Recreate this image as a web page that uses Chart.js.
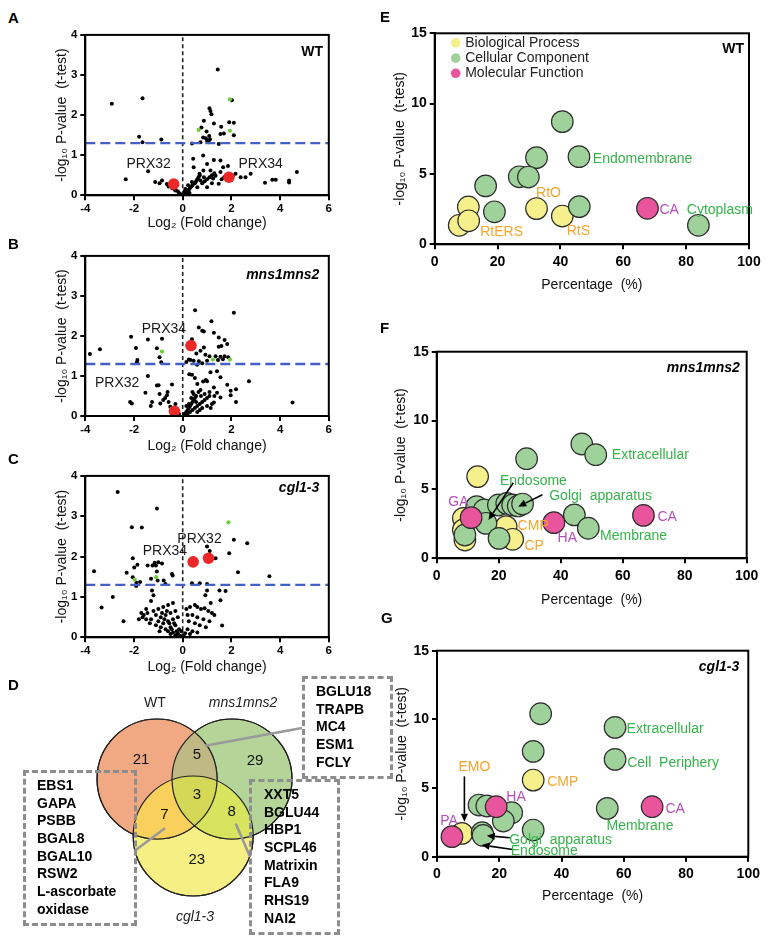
<!DOCTYPE html>
<html><head><meta charset="utf-8">
<script src="https://cdn.jsdelivr.net/npm/chart.js@4.4.1/dist/chart.umd.min.js"></script>
<style>
html,body{margin:0;padding:0;background:#fff}
body{position:relative;width:767px;height:941px;overflow:hidden;font-family:"Liberation Sans",Arial,Helvetica,sans-serif;color:#000}
canvas{position:absolute;display:block}
.letter{position:absolute;font-weight:bold;font-size:15px;line-height:15px}
.dbox{position:absolute;box-sizing:border-box;border:3px dashed #8d8d8d}
.glist{position:absolute;font-weight:bold;font-size:14px;line-height:17.67px;white-space:nowrap}
</style></head>
<body>
<canvas id="cA"></canvas><canvas id="cB"></canvas><canvas id="cC"></canvas>
<canvas id="cE"></canvas><canvas id="cF"></canvas><canvas id="cG"></canvas>
<canvas id="cV"></canvas>
<div class="letter" style="left:8px;top:10px">A</div>
<div class="letter" style="left:8px;top:236px">B</div>
<div class="letter" style="left:8px;top:451px">C</div>
<div class="letter" style="left:8px;top:677px">D</div>
<div class="letter" style="left:380px;top:9px">E</div>
<div class="letter" style="left:380px;top:320px">F</div>
<div class="letter" style="left:381px;top:610px">G</div>
<div class="dbox" style="left:23px;top:770px;width:114px;height:156px"></div>
<div class="dbox" style="left:302px;top:676px;width:91px;height:103px"></div>
<div class="dbox" style="left:249px;top:779px;width:91px;height:156px"></div>
<div class="glist" id="listWC" style="left:37px;top:777px"></div>
<div class="glist" id="listWM" style="left:316px;top:683px"></div>
<div class="glist" id="listMC" style="left:264px;top:786px"></div>
<script>
// ---------------- DATA ----------------
const P_THRESHOLD = 1.3;           // -log10(0.05)
const VOLCANO_X_TICKS = [-4, -2, 0, 2, 4, 6];
const VOLCANO_Y_TICKS = [0, 1, 2, 3, 4];
const GO_X_TICKS = [0, 20, 40, 60, 80, 100];
const GO_Y_TICKS = [0, 5, 10, 15];

// Panel A (WT) volcano: [log2 fold change, -log10 p]
const A_black = [[-2.91,2.28],[-1.65,2.42],[-1.79,1.46],[-1.65,1.32],[-0.88,1.39],
 [1.44,3.14],[2.02,2.37],[1.10,2.17],[1.14,2.10],[1.18,2.02],[0.87,1.86],[1.28,1.79],[1.58,1.71],[1.91,1.82],[2.10,1.81],
 [0.77,1.69],[0.98,1.59],[1.09,1.48],[0.84,1.44],[1.55,1.53],[1.69,1.54],[2.10,1.50],[1.48,1.28],[1.00,1.36],[0.73,1.32],
 [0.38,1.29],[1.07,1.32],[1.12,1.40],[0.95,1.42],
 [0.84,0.99],[0.43,0.91],[1.28,0.88],[1.55,0.87],[1.00,0.78],[1.86,0.73],[1.66,0.70],[1.14,0.62],[1.35,0.49],[1.55,0.58],
 [2.17,0.54],[2.38,0.45],[2.58,0.45],[2.79,0.54],[3.38,0.31],[3.68,0.39],[3.82,0.39],[4.37,0.37],[4.37,0.32],[4.69,0.58],
 [0.45,0.70],[0.69,0.54],[0.87,0.45],[1.48,0.29],[0.73,0.37],[0.38,0.33],[0.22,0.25],[0.11,0.16],
 [-2.34,0.40],[-1.42,0.60],[-1.13,0.33],[-0.85,0.37],[-0.95,0.30],[-0.58,0.22],[-0.44,0.18],[-0.30,0.12],[-0.16,0.06],[-0.65,0.28],[-0.50,0.25],
 [-0.10,0.03],[0.05,0.02],[0.10,0.05],[0.15,0.08],[0.20,0.10],[0.25,0.14],[0.30,0.18],[0.35,0.22],[0.40,0.25],[0.50,0.30],
 [0.55,0.35],[0.60,0.40],[0.65,0.45],[0.70,0.50],[0.60,0.20],[0.80,0.30],[0.90,0.35],[1.00,0.40],[1.10,0.45],[1.20,0.50],
 [1.30,0.55],[1.00,0.20],[1.20,0.30],[1.60,0.40],[1.70,0.45],[1.80,0.50],[-0.20,0.10],[-0.35,0.15],[0.00,0.00],[0.08,0.10],
 [0.18,0.03],[0.28,0.06],[0.85,0.62],[1.25,0.42],[2.05,0.48]];
const A_green = [[1.94,2.39],[0.66,1.63],[1.94,1.61]];
const A_red = [[-0.37,0.28],[1.90,0.45]];

// Panel B (mns1mns2) volcano
const B_black = [[-3.81,1.55],[-3.40,1.67],[-2.12,1.98],[-1.92,1.70],[-1.86,1.40],[-1.88,1.34],[-1.43,1.91],[-1.06,1.69],
 [-0.95,1.47],[-0.88,1.34],[-0.85,1.93],
 [-1.43,1.00],[-0.99,0.77],[-1.06,0.76],[-0.44,0.79],[-1.53,0.58],[-2.16,0.35],[-2.09,0.31],[-1.26,0.35],[-1.31,0.25],
 [-0.65,0.52],[-0.72,0.45],[-0.58,0.35],[-0.92,0.31],[-0.51,0.23],[-0.37,0.15],[-0.23,0.10],[-0.80,0.40],[-0.62,0.60],
 [-0.30,0.30],[-0.15,0.05],[-0.95,0.55],
 [0.51,2.64],[2.10,2.58],[1.18,2.37],[0.66,2.21],[0.80,2.13],[0.87,2.11],[0.38,1.92],[1.28,2.08],[1.72,1.90],[1.48,1.96],
 [1.83,1.80],[1.59,1.75],[1.48,1.73],[0.87,1.71],[0.73,1.63],[0.93,1.53],[1.10,1.49],[1.35,1.49],[1.55,1.48],[1.72,1.49],
 [1.87,1.47],[0.56,1.56],[0.32,1.40],[0.25,1.41],[0.66,1.37],[0.80,1.32],[0.59,1.28],[1.00,1.38],[1.45,1.40],[1.65,1.42],
 [0.45,1.38],[0.15,1.35],
 [0.27,1.04],[0.38,1.03],[1.14,1.09],[1.41,1.12],[1.55,0.97],[1.83,0.78],[2.72,0.87],[1.00,0.87],[0.84,0.86],[0.73,0.65],
 [1.28,0.71],[1.41,0.58],[1.97,0.63],[2.19,0.67],[1.97,0.52],[1.28,0.34],[2.19,0.35],[1.55,0.46],[4.51,0.34],[0.95,0.90],
 [0.60,0.80],[0.50,0.95],[1.10,0.60],
 [0.05,0.03],[0.10,0.06],[0.15,0.10],[0.20,0.15],[0.25,0.20],[0.30,0.25],[0.35,0.30],[0.40,0.35],[0.45,0.40],[0.50,0.45],
 [0.55,0.50],[0.30,0.10],[0.40,0.15],[0.50,0.20],[0.60,0.25],[0.70,0.30],[0.80,0.35],[0.90,0.40],[1.00,0.45],[1.10,0.50],
 [0.60,0.10],[0.80,0.20],[1.00,0.25],[1.20,0.30],[0.90,0.55],[0.65,0.60],[0.75,0.50],[0.20,0.05],[0.35,0.45],[0.45,0.55],
 [1.30,0.50],[1.15,0.20],[0.55,0.35],[0.70,0.15],[0.25,0.30],[0.40,0.60],[0.15,0.25]];
const B_green = [[-0.85,1.61],[1.24,1.41],[1.94,1.41]];
const B_red = [[-0.34,0.12],[0.34,1.76]];

// Panel C (cgl1-3) volcano
const C_black = [[-2.67,3.60],[-1.06,3.19],[-2.09,2.73],[-1.68,2.72],[-3.64,1.64],[-3.33,0.74],[-2.87,1.00],[-2.43,0.40],
 [-2.05,1.96],[-1.86,1.80],[-2.30,1.60],[-1.99,1.73],[-2.05,1.49],[-1.91,1.27],[-1.75,1.37],[-1.44,1.78],[-1.24,1.78],
 [-1.10,1.78],[-1.00,1.86],[-0.85,1.83],[-1.06,1.63],[-1.03,1.41],[-0.78,1.41],[-0.44,1.57],[-0.41,1.53],[-0.71,1.32],
 [-1.90,1.35],[-1.30,1.45],[-1.15,1.85],
 [2.10,2.42],[2.65,2.33],[1.00,2.25],[1.11,2.14],[1.35,1.96],[1.91,2.08],[2.27,1.61],[3.56,1.51],[0.38,1.34],[0.70,1.34],
 [1.00,1.32],[1.51,1.16],[1.76,1.15],[1.55,0.92],[1.00,1.16],[0.93,1.04],
 [1.62,0.29],[0.15,0.70],[0.30,0.75],[0.50,0.80],[0.60,0.75],[0.75,0.70],[0.90,0.72],[1.05,0.65],[1.20,0.60],[0.40,0.55],
 [0.60,0.50],[0.85,0.45],[1.10,0.40],[1.30,0.55],[0.25,0.40],[0.50,0.35],[0.70,0.30],[0.95,0.25],[0.20,0.20],[0.40,0.15],
 [0.60,0.12],[0.10,0.10],[0.30,0.08],[0.05,0.03],[1.15,0.85],[0.20,0.55],
 [-1.26,1.16],[-1.20,1.04],[-1.30,0.90],[-1.50,0.70],[-1.70,0.60],[-1.60,0.55],[-1.45,0.60],[-1.20,0.65],[-1.00,0.70],
 [-0.80,0.75],[-0.60,0.80],[-0.40,0.85],[-1.10,0.55],[-0.90,0.50],[-0.70,0.55],[-0.50,0.60],[-0.30,0.65],[-1.30,0.45],
 [-1.00,0.40],[-0.80,0.35],[-0.60,0.40],[-0.40,0.45],[-0.20,0.50],[-1.10,0.30],[-0.90,0.25],[-0.70,0.20],[-0.50,0.25],
 [-0.30,0.30],[-0.60,0.15],[-0.40,0.12],[-0.20,0.10],[-0.50,0.08],[-0.30,0.05],[-0.10,0.04],[-0.15,0.20],[-0.25,0.15],
 [-0.35,0.35],[-0.65,0.65],[-0.85,0.60],[-1.80,0.45],[-1.35,0.35],[-1.65,0.50],[-0.45,0.20],[-0.55,0.35],[-0.75,0.45],
 [-0.95,0.15],[-1.50,0.45],[-0.05,0.15],[-0.25,0.02]];
const C_green = [[-1.97,1.43],[-1.09,1.49],[1.88,2.85]];
const C_red = [[0.43,1.87],[1.06,1.96]];

// GO enrichment bubbles: [percentage, -log10 p]
const GO_CATEGORIES = ['Biological Process', 'Cellular Component', 'Molecular Function'];
const E_bp = [[7.8,1.35],[10.7,2.65],[10.8,1.67],[32.4,2.54],[40.6,2.01]];
const E_cc = [[40.6,8.72],[32.4,6.16],[45.9,6.23],[26.9,4.80],[29.8,4.78],[16.2,4.15],[19.0,2.31],[46.0,2.68],[83.9,1.35]];
const E_mf = [[67.7,2.56]];
const F_bp = [[13.2,5.93],[8.6,2.90],[8.6,2.06],[9.1,1.33],[22.4,2.30],[24.5,1.38]];
const F_cc = [[46.8,8.30],[51.3,7.52],[29.0,7.23],[44.4,3.15],[48.9,2.18],[12.9,3.75],[15.3,3.51],[19.9,3.87],[22.6,3.99],
 [24.5,3.87],[26.3,3.80],[27.7,3.94],[15.9,2.54],[20.1,1.45],[9.1,1.69]];
const F_mf = [[11.1,2.95],[37.8,2.59],[66.7,3.12]];
const G_bp = [[30.9,5.58],[8.0,1.70]];
const G_cc = [[33.3,10.41],[57.2,9.42],[57.2,7.09],[30.9,7.67],[13.5,3.76],[16.0,3.69],[24.0,3.20],[21.3,2.60],[54.7,3.52],
 [30.9,1.94],[14.5,1.75],[14.8,1.55]];
const G_mf = [[19.0,3.64],[69.1,3.64],[4.8,1.46]];

// Venn
const VENN_SETS = ['WT', 'mns1mns2', 'cgl1-3'];
const VENN_COUNTS = [21, 5, 29, 3, 7, 8, 23]; // WT only, WT∩mns, mns only, all, WT∩cgl, mns∩cgl, cgl only
const GENES_WT_CGL = ['EBS1','GAPA','PSBB','BGAL8','BGAL10','RSW2','L-ascorbate','oxidase'];
const GENES_WT_MNS = ['BGLU18','TRAPB','MC4','ESM1','FCLY'];
const GENES_MNS_CGL = ['XXT5','BGLU44','HBP1','SCPL46','Matrixin','FLA9','RHS19','NAI2'];

// ---------------- STYLE / LAYOUT ----------------
const FONT = '"Liberation Sans", Arial, Helvetica, sans-serif';
Chart.defaults.font.family = FONT;
Chart.defaults.color = '#000';
Chart.defaults.animation = false;
const C_YEL = '#f6f08c', C_GRN = '#9fd29b', C_PNK = '#e9559c';
const T_ORG = '#f5a52a', T_GRN = '#35b34a', T_PUR = '#b34fbd';

function pts(a){ return a.map(p => ({x:p[0], y:p[1]})); }
function place(id, L, T, W, H){
  const c = document.getElementById(id);
  c.width = W; c.height = H;
  c.style.left = L + 'px'; c.style.top = T + 'px';
  c.style.width = W + 'px'; c.style.height = H + 'px';
  return c;
}

function decoPlugin(cfg){
  return {
    id: 'deco',
    afterDatasetsDraw(chart){
      const {ctx, chartArea: ca, scales} = chart;
      const xs = scales.x, ys = scales.y;
      ctx.save();
      if (cfg.frame){
        ctx.strokeStyle = '#000'; ctx.lineWidth = 2;
        ctx.strokeRect(ca.left, ca.top, ca.right - ca.left, ca.bottom - ca.top);
      }
      (cfg.arrows || []).forEach(a => {
        const x1 = xs.getPixelForValue(a[0]), y1 = ys.getPixelForValue(a[1]);
        const x2 = xs.getPixelForValue(a[2]), y2 = ys.getPixelForValue(a[3]);
        const ang = Math.atan2(y2 - y1, x2 - x1), hl = 8, hw = 3.6;
        const bx = x2 - Math.cos(ang) * hl, by = y2 - Math.sin(ang) * hl;
        ctx.strokeStyle = '#000'; ctx.fillStyle = '#000'; ctx.lineWidth = 1.6;
        ctx.beginPath(); ctx.moveTo(x1, y1); ctx.lineTo(bx, by); ctx.stroke();
        ctx.beginPath(); ctx.moveTo(x2, y2);
        ctx.lineTo(bx - Math.sin(ang) * hw, by + Math.cos(ang) * hw);
        ctx.lineTo(bx + Math.sin(ang) * hw, by - Math.cos(ang) * hw);
        ctx.closePath(); ctx.fill();
      });
      (cfg.notes || []).forEach(n => {
        ctx.font = (n.style || '') + ' ' + (n.size || 14) + 'px ' + FONT;
        ctx.fillStyle = n.color || '#1a1a1a';
        ctx.textAlign = n.align || 'center';
        ctx.textBaseline = 'middle';
        ctx.fillText(n.text, xs.getPixelForValue(n.x), ys.getPixelForValue(n.y));
      });
      if (cfg.legend){
        cfg.legend.forEach((it, i) => {
          const cy = ca.top + 9.6 + i * 15.2;
          ctx.beginPath(); ctx.arc(ca.left + 21, cy, 4.8, 0, 2 * Math.PI);
          ctx.fillStyle = it.color; ctx.fill();
          ctx.font = '14px ' + FONT; ctx.fillStyle = '#222';
          ctx.textAlign = 'left'; ctx.textBaseline = 'middle';
          ctx.fillText(it.label, ca.left + 30.5, cy);
        });
      }
      ctx.restore();
    }
  };
}

function axisCommon(tickVals, tickSize, fit){
  return {
    type: 'linear',
    min: tickVals[0], max: tickVals[tickVals.length - 1],
    afterBuildTicks: s => { s.ticks = tickVals.map(v => ({value: v})); },
    ticks: {font: {size: tickSize, weight: 'bold'}, color: '#000', padding: 3},
    grid: {display: true, drawOnChartArea: false, drawTicks: true, tickLength: 5, color: '#000', lineWidth: 2},
    border: {display: true, color: '#000', width: 2},
    afterFit: fit
  };
}

function volcano(id, box, black, green, red, notes){
  const c = place(id, box.L, box.T, box.W, box.H);
  const xMin = VOLCANO_X_TICKS[0], xMax = VOLCANO_X_TICKS[VOLCANO_X_TICKS.length - 1];
  const yMin = VOLCANO_Y_TICKS[0], yMax = VOLCANO_Y_TICKS[VOLCANO_Y_TICKS.length - 1];
  const xs = axisCommon(VOLCANO_X_TICKS, 11.5, s => { s.height = box.xh; });
  xs.ticks.padding = 2;
  xs.title = {display: true, text: 'Log\u2082 (Fold change)', font: {size: 14}, color: '#111', padding: {top: 0, bottom: 0}};
  const ys = axisCommon(VOLCANO_Y_TICKS, 11.5, s => { s.width = box.yw; });
  ys.title = {display: true, text: '-log\u2081\u2080 P-value  (t-test)', font: {size: 14}, color: '#111', padding: {top: 4, bottom: 0}};
  new Chart(c, {
    type: 'scatter',
    data: {datasets: [
      {data: pts(red), pointRadius: 5.8, backgroundColor: '#ec2727', borderWidth: 0, order: 0},
      {data: pts(green), pointRadius: 2.1, backgroundColor: '#71cc3c', borderWidth: 0, order: 1},
      {data: pts(black), pointRadius: 2.0, backgroundColor: '#000', borderWidth: 0, order: 2},
      {type: 'line', data: [{x: 0, y: yMin}, {x: 0, y: yMax}], borderColor: '#222', borderWidth: 1.6,
       borderDash: [4, 3], pointRadius: 0, fill: false, order: 3},
      {type: 'line', data: [{x: xMin, y: P_THRESHOLD}, {x: xMax, y: P_THRESHOLD}], borderColor: '#4560c4',
       borderWidth: 2.4, borderDash: [10, 5], pointRadius: 0, fill: false, order: 1.5}
    ]},
    options: {
      responsive: false, animation: false, events: [],
      layout: {padding: {left: 0, top: box.pt, right: box.pr, bottom: 0}, autoPadding: false},
      plugins: {legend: {display: false}, tooltip: {enabled: false}},
      scales: {x: xs, y: ys}
    },
    plugins: [decoPlugin({frame: true, notes})]
  });
}

function goChart(id, box, bp, cc, mf, notes, arrows, legend){
  const c = place(id, box.L, box.T, box.W, box.H);
  const xs = axisCommon(GO_X_TICKS, 14, s => { s.height = box.xh; });
  xs.ticks.padding = 4;
  xs.title = {display: true, text: 'Percentage  (%)', font: {size: 14}, color: '#111', padding: {top: 0, bottom: 0}};
  const ys = axisCommon(GO_Y_TICKS, 14, s => { s.width = box.yw; });
  ys.title = {display: true, text: '-log\u2081\u2080 P-value  (t-test)', font: {size: 14}, color: '#111', padding: {top: 4, bottom: 0}};
  const cols = [C_YEL, C_GRN, C_PNK];
  const sets = [bp, cc, mf].map((d, i) => ({
    label: GO_CATEGORIES[i], data: pts(d), pointRadius: 10.8, backgroundColor: cols[i],
    borderColor: '#2e2e2e', borderWidth: 1.2, order: 3 - i
  }));
  new Chart(c, {
    type: 'scatter',
    data: {datasets: sets},
    options: {
      responsive: false, animation: false, events: [],
      layout: {padding: {left: 0, top: box.pt, right: box.pr, bottom: 0}, autoPadding: false},
      plugins: {legend: {display: false}, tooltip: {enabled: false}},
      scales: {x: xs, y: ys}
    },
    plugins: [decoPlugin({frame: true, notes, arrows,
      legend: legend ? GO_CATEGORIES.map((l, i) => ({label: l, color: cols[i]})) : null})]
  });
}

// ---------------- VOLCANO PANELS ----------------
volcano('cA', {L: 50, T: 25, W: 290, H: 207, yw: 35.3, xh: 36.7, pt: 8.3, pr: 11.2}, A_black, A_green, A_red, [
  {text: 'PRX32', x: -1.40, y: 0.77}, {text: 'PRX34', x: 3.20, y: 0.78},
  {text: 'WT', x: 5.76, y: 3.57, align: 'right', style: 'bold', color: '#000'}]);
volcano('cB', {L: 50, T: 246, W: 290, H: 209, yw: 35.3, xh: 39, pt: 8.3, pr: 11.2}, B_black, B_green, B_red, [
  {text: 'PRX34', x: -0.77, y: 2.17}, {text: 'PRX32', x: -2.69, y: 0.83},
  {text: 'mns1mns2', x: 5.61, y: 3.53, align: 'right', style: 'italic bold', color: '#000'}]);
volcano('cC', {L: 50, T: 466, W: 290, H: 210, yw: 35.3, xh: 38.7, pt: 8.3, pr: 11.2}, C_black, C_green, C_red, [
  {text: 'PRX32', x: 0.69, y: 2.43}, {text: 'PRX34', x: -0.73, y: 2.14},
  {text: 'cgl1-3', x: 5.61, y: 3.70, align: 'right', style: 'italic bold', color: '#000'}]);

// ---------------- GO PANELS ----------------
goChart('cE', {L: 388, T: 20, W: 379, H: 274, yw: 46.7, xh: 49.7, pt: 13.3, pr: 18}, E_bp, E_cc, E_mf, [
  {text: 'RtO', x: 36.2, y: 3.67, color: T_ORG}, {text: 'RtERS', x: 21.3, y: 0.83, color: T_ORG},
  {text: 'RtS', x: 45.7, y: 0.95, color: T_ORG},
  {text: 'Endomembrane', x: 50.3, y: 6.04, align: 'left', color: T_GRN},
  {text: 'CA', x: 71.5, y: 2.46, align: 'left', color: T_PUR},
  {text: 'Cytoplasm', x: 80.2, y: 2.44, align: 'left', color: T_GRN},
  {text: 'WT', x: 98.4, y: 13.86, align: 'right', style: 'bold', color: '#000'}], [], true);
goChart('cF', {L: 389, T: 338, W: 378, H: 271, yw: 47.7, xh: 50.7, pt: 13.7, pr: 20.3}, F_bp, F_cc, F_mf, [
  {text: 'Extracellular', x: 56.5, y: 7.48, align: 'left', color: T_GRN},
  {text: 'Endosome', x: 31.2, y: 5.61, color: T_GRN},
  {text: 'Golgi  apparatus', x: 36.3, y: 4.48, align: 'left', color: T_GRN},
  {text: 'GA', x: 7.0, y: 4.11, color: T_PUR},
  {text: 'CMP', x: 26.1, y: 2.30, align: 'left', color: T_ORG},
  {text: 'CP', x: 28.3, y: 0.90, align: 'left', color: T_ORG},
  {text: 'HA', x: 39.0, y: 1.45, align: 'left', color: T_PUR},
  {text: 'Membrane', x: 52.7, y: 1.62, align: 'left', color: T_GRN},
  {text: 'CA', x: 71.2, y: 3.02, align: 'left', color: T_PUR},
  {text: 'mns1mns2', x: 97.8, y: 13.8, align: 'right', style: 'italic bold', color: '#000'}],
  [[24.7, 5.49, 16.7, 2.78], [34.1, 4.62, 26.3, 3.75]], false);
goChart('cG', {L: 390, T: 637, W: 377, H: 268, yw: 47, xh: 48.3, pt: 13.7, pr: 18.7}, G_bp, G_cc, G_mf, [
  {text: 'Extracellular', x: 60.9, y: 9.30, align: 'left', color: T_GRN},
  {text: 'Cell  Periphery', x: 61.1, y: 6.84, align: 'left', color: T_GRN},
  {text: 'CMP', x: 35.4, y: 5.46, align: 'left', color: T_ORG},
  {text: 'HA', x: 25.4, y: 4.37, color: T_PUR},
  {text: 'CA', x: 73.4, y: 3.47, align: 'left', color: T_PUR},
  {text: 'Membrane', x: 65.2, y: 2.23, color: T_GRN},
  {text: 'EMO', x: 12.0, y: 6.55, color: T_ORG},
  {text: 'PA', x: 3.9, y: 2.62, color: T_PUR},
  {text: 'Golgi  apparatus', x: 23.2, y: 1.17, align: 'left', color: T_GRN},
  {text: 'Endosome', x: 23.7, y: 0.44, align: 'left', color: T_GRN},
  {text: 'cgl1-3', x: 97.1, y: 13.8, align: 'right', style: 'italic bold', color: '#000'}],
  [[8.8, 5.85, 8.8, 2.55], [23.4, 1.38, 16.0, 1.53], [24.3, 0.53, 14.3, 0.85]], false);

// ---------------- VENN ----------------
(function(){
  const c = place('cV', 0, 680, 400, 261);
  const centers = [[-0.633, 0.35], [0.617, 0.35], [-0.03, -0.6]];
  const fills = ['#f1a983', '#b4d597', '#f6ef84'];
  const overlap = {WM: '#c1b985', WC: '#f9d05c', MC: '#d7e45e', ALL: '#d4d856'};
  const countPos = [[-0.9, 0.667], [0.03, 0.75], [1.0, 0.65], [0.03, 0.083], [-0.51, -0.24], [0.61, -0.2], [0.03, -1.0]];
  const setLabelPos = [[-0.667, 1.617], [0.8, 1.617], [0.0, -1.95]];
  const connectors = [[[0.167, 0.905], [1.783, 1.2]], [[-0.5, -0.47], [-0.988, -0.833]], [[0.678, -0.39], [0.917, -0.945]]];
  const datasets = centers.map((p, i) => ({
    data: [{x: p[0], y: p[1]}], pointRadius: 60, backgroundColor: fills[i], borderColor: '#222', borderWidth: 1.2,
    order: 1, clip: false
  }));
  connectors.forEach(seg => datasets.push({
    type: 'line', data: seg.map(p => ({x: p[0], y: p[1]})), borderColor: '#9a9a9a', borderWidth: 2.6,
    pointRadius: 0, fill: false, order: 0, clip: false
  }));
  const notes = VENN_COUNTS.map((n, i) => ({text: String(n), x: countPos[i][0], y: countPos[i][1], size: 15, color: '#111'}));
  VENN_SETS.forEach((s, i) => notes.push({text: s, x: setLabelPos[i][0], y: setLabelPos[i][1], size: 14,
    style: i === 0 ? '' : 'italic', color: '#222'}));
  const regionPlugin = {
    id: 'venn',
    afterDatasetDraw(chart, args){
      if (args.index !== 0) return;
      const ctx = chart.ctx;
      const k = [0, 1, 2].map(i => { const e = chart.getDatasetMeta(i).data[0]; return {x: e.x, y: e.y, r: e.options.radius}; });
      const path = i => { ctx.beginPath(); ctx.arc(k[i].x, k[i].y, k[i].r, 0, 2 * Math.PI); };
      const clip = i => { path(i); ctx.clip(); };
      const fill = (i, col) => { path(i); ctx.fillStyle = col; ctx.fill(); };
      ctx.save(); clip(0); fill(1, overlap.WM); ctx.restore();
      ctx.save(); clip(0); fill(2, overlap.WC); ctx.restore();
      ctx.save(); clip(1); fill(2, overlap.MC); ctx.restore();
      ctx.save(); clip(0); clip(1); fill(2, overlap.ALL); ctx.restore();
      ctx.save(); ctx.strokeStyle = '#222'; ctx.lineWidth = 1.2;
      [0, 1, 2].forEach(i => { path(i); ctx.stroke(); });
      ctx.restore();
    }
  };
  new Chart(c, {
    type: 'scatter',
    data: {datasets},
    options: {
      responsive: false, animation: false, events: [],
      layout: {padding: 0, autoPadding: false},
      plugins: {legend: {display: false}, tooltip: {enabled: false}},
      scales: {
        x: {type: 'linear', min: -3.25, max: 3.4167, display: false},
        y: {type: 'linear', min: -2.35, max: 2.0, display: false}
      }
    },
    plugins: [regionPlugin, decoPlugin({frame: false, notes})]
  });
})();

// gene lists
document.getElementById('listWC').innerHTML = GENES_WT_CGL.join('<br>');
document.getElementById('listWM').innerHTML = GENES_WT_MNS.join('<br>');
document.getElementById('listMC').innerHTML = GENES_MNS_CGL.join('<br>');
</script>
</body></html>
